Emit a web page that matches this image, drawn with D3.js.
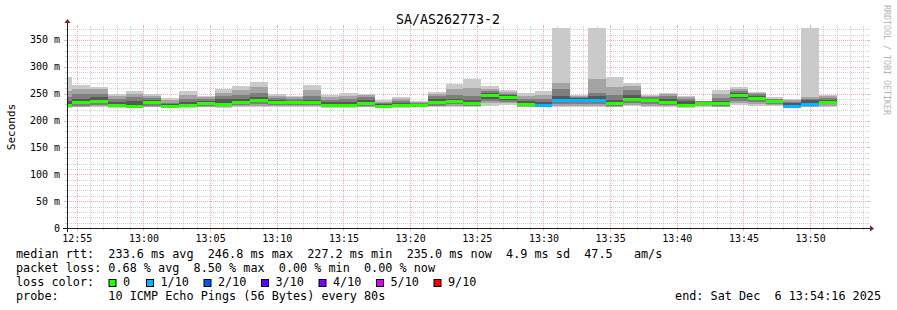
<!DOCTYPE html>
<html><head><meta charset="utf-8">
<script src="https://cdn.jsdelivr.net/npm/d3@7"></script>
<style>
body{margin:0;background:#fff}
text{font-family:"DejaVu Sans Mono",monospace;fill:#000}
</style>
</head><body><svg id="c" width="897" height="310"></svg>
<script>
const title = "SA/AS262773-2";
const yLabel = "Seconds";
const watermark = "RRDTOOL / TOBI OETIKER";
const startTime = "2025-12-06 12:54:16";
const endTime = "2025-12-06 13:54:16";
const stepSeconds = 80;
const stepStarts = ["12:53:20","12:54:40","12:56:00","12:57:20","12:58:40","13:00:00","13:01:20","13:02:40","13:04:00","13:05:20","13:06:40","13:08:00","13:09:20","13:10:40","13:12:00","13:13:20","13:14:40","13:16:00","13:17:20","13:18:40","13:20:00","13:21:20","13:22:40","13:24:00","13:25:20","13:26:40","13:28:00","13:29:20","13:30:40","13:32:00","13:33:20","13:34:40","13:36:00","13:37:20","13:38:40","13:40:00","13:41:20","13:42:40","13:44:00","13:45:20","13:46:40","13:48:00","13:49:20","13:50:40"];
const median = [229,234,237,229,228,234,227,229.5,233,230,235,238,234,234,235,229,228.5,233.5,227.6,229.6,229,234,236,233,247,243,231,229.5,237.7,238,238,232,241,238,235,229,233.6,233,246.8,242,237,227.2,230,235];
const loss = [0,0,0,0,0,0,0,0,0,0,0,0,0,0,0,0,0,0,0,0,0,0,0,0,0,0,0,1,1,1,1,0,0,0,0,0,0,0,0,0,0,1,1,0];
const pings = [
 [224,225,226,227,228,230,236,244,255,281],
 [225,226,228,231,233,235,240,250,259,267],
 [225,227,229,233,236,238,243,250,258,262],
 [224,225,226,227,228,230,234,240,246,250],
 [224,225,226,227,227,229,236,244,250,255],
 [225,226,228,231,233,235,238,242,246,249],
 [224,225,225,226,227,228,230,233,238,242],
 [224,225,226,228,229,230,234,240,248,255],
 [225,226,227,230,232,234,237,240,243,246],
 [224,226,227,229,229,231,240,246,252,258],
 [225,227,229,232,234,236,240,247,256,264],
 [226,228,230,234,237,239,244,252,262,272],
 [225,227,229,232,233,235,238,242,246,250],
 [226,228,229,232,233,235,237,240,243,246],
 [225,227,229,232,234,236,239,245,256,267],
 [224,225,226,227,228,230,234,238,243,247],
 [224,225,226,227,228,229,234,240,246,251],
 [225,226,228,231,233,234,238,243,247,250],
 [224,225,225,226,227,228,230,232,235,238],
 [224,225,226,228,229,230,233,236,240,244],
 [225,226,227,228,228,230,231,232,234,236],
 [225,227,228,231,233,235,240,245,250,254],
 [226,228,230,233,235,237,241,248,258,268],
 [225,227,228,231,232,234,238,246,260,277],
 [228,232,236,241,246,248,251,255,259,264],
 [229,232,235,239,242,244,247,250,253,256],
 [225,226,227,229,230,232,236,241,246,251],
 [225,226,227,229,229,230,234,240,248,255],
 [226,228,231,235,237,239,246,259,270,500],
 [226,228,231,235,237,239,242,244,246,248],
 [226,228,231,235,237,239,245,252,277,500],
 [225,226,228,230,231,233,238,248,262,282],
 [227,229,232,237,240,242,247,256,264,270],
 [226,228,231,235,237,239,241,243,245,248],
 [225,227,229,232,234,236,240,245,249,252],
 [224,225,226,228,228,230,236,240,244,246],
 [226,227,229,231,233,234,235,236,236,237],
 [225,226,228,231,232,234,237,242,250,257],
 [229,233,237,242,246,248,251,255,259,263],
 [228,231,234,238,241,243,246,249,252,254],
 [227,229,231,234,236,238,239,240,241,243],
 [224,225,226,227,227,229,232,235,238,241],
 [225,226,228,229,229,231,238,241,243,500],
 [226,228,230,233,234,236,239,242,245,248]
];
const yTicks = [0,50,100,150,200,250,300,350];
const yMax = 372.3;
const lossLabels = ["0","1/10","2/10","3/10","4/10","5/10","9/10"];
const lossColors = ["#26ff00","#00b8ff","#0059ff","#5e00ff","#7e00ff","#dd00ff","#ff0000"];
const smokeColors = ["#cacaca","#a4a4a4","#7e7e7e","#585858","#323232"];
const legendRtt = "median rtt:  233.6 ms avg  246.8 ms max  227.2 ms min  235.0 ms now  4.9 ms sd  47.5   am/s";
const legendLoss = "packet loss: 0.68 % avg  8.50 % max  0.00 % min  0.00 % now";
const legendLossHead = "loss color:";
const legendProbe = "probe:       10 ICMP Echo Pings (56 Bytes) every 80s";
const legendEnd = "end: Sat Dec  6 13:54:16 2025";

const svg = d3.select("#c");
const P = {l:67, r:867, t:28, b:228};
const parse = d3.timeParse("%Y-%m-%d %H:%M:%S");
const x = d3.scaleTime().domain([parse(startTime), parse(endTime)]).range([P.l, P.r]);
const y = d3.scaleLinear().domain([0, yMax]).range([P.b, P.t]);

svg.append("rect").attr("width",897).attr("height",310).attr("fill","#fff");

const minorCol = "rgba(150,150,150,0.45)";
const majorCol = "rgba(230,90,90,0.5)";
// grid
const g = svg.append("g").attr("shape-rendering","crispEdges");
const minorT = x.ticks(d3.timeMinute.every(1));
const majorT = x.ticks(d3.timeMinute.every(5));
const isMajor = t => t.getMinutes() % 5 === 0;
minorT.forEach(t => {
  const xx = Math.round(x(t)) + 0.5;
  const col = isMajor(t) ? majorCol : minorCol;
  g.append("line").attr("x1",xx).attr("x2",xx).attr("y1",P.b).attr("y2",P.t)
    .attr("stroke",col).attr("stroke-dasharray","1,1");
  const tl = isMajor(t) ? 3 : 2;
  g.append("line").attr("x1",xx).attr("x2",xx).attr("y1",P.b).attr("y2",P.b+tl).attr("stroke",col);
  g.append("line").attr("x1",xx).attr("x2",xx).attr("y1",P.t).attr("y2",P.t-tl).attr("stroke",col);
});
const minorY = d3.range(0, yMax, 10);
minorY.forEach(v => {
  const yy = Math.round(y(v)) + 0.5;
  const maj = v % 50 === 0;
  if (v === 0) return;
  const col = maj ? majorCol : minorCol;
  g.append("line").attr("x1",P.l).attr("x2",P.r).attr("y1",yy).attr("y2",yy)
    .attr("stroke",col).attr("stroke-dasharray","1,1");
  const tl = maj ? 3 : 2;
  g.append("line").attr("x1",P.l-tl).attr("x2",P.l).attr("y1",yy).attr("y2",yy).attr("stroke",col);
  g.append("line").attr("x1",P.r).attr("x2",P.r+tl).attr("y1",yy).attr("y2",yy).attr("stroke",col);
});

// data
svg.append("clipPath").attr("id","clip").append("rect")
  .attr("x",P.l).attr("y",P.t).attr("width",P.r-P.l).attr("height",P.b-P.t);
const data = stepStarts.map((s,i) => {
  const t0 = parse("2025-12-06 " + s);
  return {t0, t1: d3.timeSecond.offset(t0, stepSeconds), p: pings[i], m: median[i], loss: loss[i]};
});
const dg = svg.append("g").attr("clip-path","url(#clip)").attr("shape-rendering","crispEdges");
data.forEach(d => {
  const x0 = Math.round(x(d.t0)), x1 = Math.round(x(d.t1));
  for (let k = 0; k < 5; k++) {
    const yt = Math.round(y(d.p[9-k])), yb = Math.round(y(d.p[k]));
    dg.append("rect").attr("x",x0).attr("width",x1-x0)
      .attr("y",yt).attr("height",Math.max(1,yb-yt)).attr("fill",smokeColors[k]);
  }
});
data.forEach(d => {
  const x0 = Math.round(x(d.t0)), x1 = Math.round(x(d.t1));
  dg.append("rect").attr("x",x0).attr("width",x1-x0)
    .attr("y",Math.round(y(d.m))-1).attr("height",3).attr("fill",lossColors[d.loss]);
});

// axes
const ax = svg.append("g").attr("shape-rendering","crispEdges");
ax.append("line").attr("x1",P.l-4).attr("x2",P.r+3).attr("y1",P.b+0.5).attr("y2",P.b+0.5).attr("stroke","#1f1f1f");
ax.append("line").attr("x1",P.l+0.5).attr("x2",P.l+0.5).attr("y1",P.b+4).attr("y2",P.t-5).attr("stroke","#1f1f1f");
svg.append("path").attr("d",`M${P.r+3},${P.b-2.5} L${P.r+7},${P.b+0.5} L${P.r+3},${P.b+3.5} Z`).attr("fill","#801f1f");
svg.append("path").attr("d",`M${P.l-2.5},${P.t-5} L${P.l+0.5},${P.t-9} L${P.l+3.5},${P.t-5} Z`).attr("fill","#801f1f");

// tick labels
const fmt = d3.timeFormat("%H:%M");
svg.append("g").selectAll("text").data(majorT).join("text")
  .attr("x", d => x(d)+0.5).attr("y", 242).attr("text-anchor","middle")
  .style("font-size","10px").text(fmt);
svg.append("g").selectAll("text").data(yTicks).join("text")
  .attr("x", 60).attr("y", d => y(d)+3.5).attr("text-anchor","end")
  .style("font-size","10px").text(d => d === 0 ? "0" : d + " m");

// titles
svg.append("text").attr("x",448).attr("y",24).attr("text-anchor","middle").style("font-size","13.3px").text(title);
svg.append("text").attr("transform","translate(15,127) rotate(-90)").attr("text-anchor","middle")
  .style("font-size","11px").text(yLabel);
svg.append("text").attr("transform","translate(884,5) rotate(90)").attr("text-anchor","start")
  .style("font-size","8.3px").style("fill","#b4b4b4").text(watermark);

// legend
const lg = svg.append("g").style("font-size","11.8px").style("white-space","pre");
lg.append("text").attr("x",16).attr("y",258).attr("xml:space","preserve").text(legendRtt);
lg.append("text").attr("x",16).attr("y",272).attr("xml:space","preserve").text(legendLoss);
lg.append("text").attr("x",16).attr("y",286).attr("xml:space","preserve").text(legendLossHead);
lg.append("text").attr("x",16).attr("y",300).attr("xml:space","preserve").text(legendProbe);
lg.append("text").attr("x",881).attr("y",300).attr("text-anchor","end").attr("xml:space","preserve").text(legendEnd);
const boxX = [108.5,146,203.5,261,318.5,376,433.5];
lossLabels.forEach((lab,i) => {
  lg.append("rect").attr("x",boxX[i]+0.5).attr("y",279.5).attr("width",7).attr("height",7)
    .attr("fill",lossColors[i]).attr("stroke","#000").attr("stroke-width",1);
  lg.append("text").attr("x",boxX[i]+14.5).attr("y",286).text(lab);
});
</script>
</body></html>
